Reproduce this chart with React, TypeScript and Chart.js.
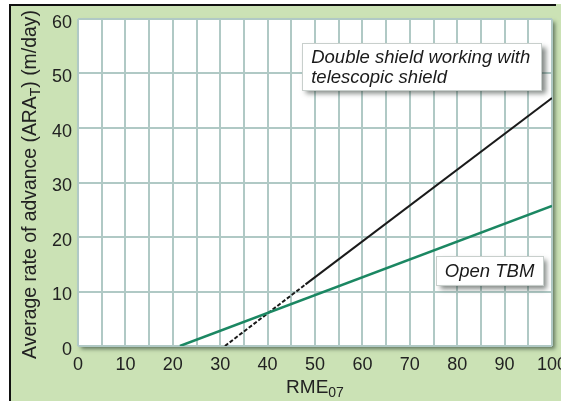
import React, { useEffect, useRef } from 'react';
import { Chart, registerables } from 'chart.js';

Chart.register(...registerables);

// ---- data ----
const xTickLabels = [0, 10, 20, 30, 40, 50, 60, 70, 80, 90, 100];
const yTickLabels = [0, 10, 20, 30, 40, 50, 60];

const doubleShieldDashedX = [31, 48];
const doubleShieldDashedY = [0, 11.3];
const doubleShieldSolidX = [48, 100];
const doubleShieldSolidY = [11.3, 45.5];
const openTbmX = [21.5, 100];
const openTbmY = [0, 25.7];

const doubleShieldLabel = ['Double shield working with', 'telescopic shield'];
const openTbmLabel = ['Open TBM'];

const xTitle = [{ t: 'RME' }, { t: '07', sub: true }];
const yTitle = [
  { t: 'Average rate of advance (ARA' },
  { t: 'T', sub: true },
  { t: ') (m/day)' },
];

// ---- annotation boxes (data coordinates) ----
const annotations = [
  { lines: doubleShieldLabel, x0: 47.3, x1: 97.8, y0: 55.6, y1: 46.9 },
  { lines: openTbmLabel, x0: 75.5, x1: 98.1, y0: 16.5, y1: 11.2 },
];

const FAMILY = '"Liberation Sans", Arial, Helvetica, sans-serif';
const GREEN_BG = '#cbe2b5';
const GRID = '#b0c9c5';

function toPoints(xs: number[], ys: number[]) {
  return xs.map((x, i) => ({ x, y: ys[i] }));
}

function drawRich(ctx: CanvasRenderingContext2D, parts: { t: string; sub?: boolean }[], size: number, cx: number, y: number) {
  const big = `${size}px ${FAMILY}`;
  const small = `${Math.round(size * 0.72)}px ${FAMILY}`;
  let total = 0;
  const widths = parts.map((p) => {
    ctx.font = p.sub ? small : big;
    const w = ctx.measureText(p.t).width;
    total += w;
    return w;
  });
  let x = cx - total / 2;
  ctx.textAlign = 'left';
  ctx.textBaseline = 'alphabetic';
  parts.forEach((p, i) => {
    ctx.font = p.sub ? small : big;
    ctx.fillText(p.t, x, p.sub ? y + size * 0.22 : y);
    x += widths[i];
  });
}

const decorPlugin = {
  id: 'decor',
  beforeDraw(chart: any) {
    const { ctx, width, height, chartArea: a } = chart;
    ctx.save();
    ctx.fillStyle = '#ffffff';
    ctx.fillRect(0, 0, width, height);
    ctx.fillStyle = GREEN_BG;
    ctx.fillRect(10, 4, width - 10, height - 4);
    ctx.strokeStyle = '#111';
    ctx.lineWidth = 2;
    ctx.beginPath();
    ctx.moveTo(556, 5);
    ctx.lineTo(10, 5);
    ctx.lineTo(10, height);
    ctx.stroke();
    // plot area with drop shadow
    ctx.shadowColor = 'rgba(40,60,45,0.65)';
    ctx.shadowOffsetX = 3;
    ctx.shadowOffsetY = 3;
    ctx.shadowBlur = 4;
    ctx.fillStyle = '#ffffff';
    ctx.fillRect(a.left, a.top, a.right - a.left, a.bottom - a.top);
    ctx.restore();
  },
  afterDatasetsDraw(chart: any) {
    const { ctx, scales } = chart;
    const xs = scales.x;
    const ys = scales.y;
    annotations.forEach((an) => {
      const l = xs.getPixelForValue(an.x0);
      const r = xs.getPixelForValue(an.x1);
      const t = ys.getPixelForValue(an.y0);
      const b = ys.getPixelForValue(an.y1);
      ctx.save();
      ctx.shadowColor = 'rgba(30,40,35,0.55)';
      ctx.shadowOffsetX = 4;
      ctx.shadowOffsetY = 4;
      ctx.shadowBlur = 5;
      ctx.fillStyle = '#ffffff';
      ctx.fillRect(l, t, r - l, b - t);
      ctx.restore();
      ctx.save();
      ctx.strokeStyle = '#c8cfcc';
      ctx.lineWidth = 1;
      ctx.strokeRect(Math.round(l) + 0.5, Math.round(t) + 0.5, Math.round(r - l), Math.round(b - t));
      ctx.fillStyle = '#1a1a1a';
      ctx.font = `italic 18.5px ${FAMILY}`;
      ctx.textAlign = 'left';
      ctx.textBaseline = 'alphabetic';
      const n = an.lines.length;
      const lh = 20;
      const mid = (t + b) / 2;
      an.lines.forEach((line, i) => {
        const base = mid + (i - (n - 1) / 2) * lh + 6.5;
        ctx.fillText(line, l + 9, base);
      });
      ctx.restore();
    });
  },
  afterDraw(chart: any) {
    const { ctx, chartArea: a } = chart;
    ctx.save();
    ctx.fillStyle = '#222';
    drawRich(ctx, xTitle, 19, (a.left + a.right) / 2, 393);
    ctx.translate(36, (a.top + a.bottom) / 2 + 2);
    ctx.rotate(-Math.PI / 2);
    drawRich(ctx, yTitle, 19.4, 0, 0);
    ctx.restore();
  },
};

export default function App() {
  const ref = useRef<HTMLCanvasElement | null>(null);

  useEffect(() => {
    if (!ref.current) return;
    Chart.defaults.font.family = FAMILY;
    const chart = new Chart(ref.current, {
      type: 'scatter',
      data: {
        datasets: [
          {
            label: 'Open TBM',
            data: toPoints(openTbmX, openTbmY),
            showLine: true,
            borderColor: '#1b8762',
            borderWidth: 2.5,
            pointRadius: 0,
          },
          {
            label: 'Double shield (extrapolated)',
            data: toPoints(doubleShieldDashedX, doubleShieldDashedY),
            showLine: true,
            borderColor: '#1a1a1a',
            borderWidth: 2,
            borderDash: [4, 2],
            pointRadius: 0,
          },
          {
            label: 'Double shield working with telescopic shield',
            data: toPoints(doubleShieldSolidX, doubleShieldSolidY),
            showLine: true,
            borderColor: '#1a1a1a',
            borderWidth: 2,
            pointRadius: 0,
          },
        ],
      },
      options: {
        animation: false,
        responsive: false,
        devicePixelRatio: 1,
        layout: { padding: { top: 19, right: 9, left: 0, bottom: 0 } },
        plugins: { legend: { display: false }, tooltip: { enabled: false } },
        scales: {
          x: {
            type: 'linear',
            min: 0,
            max: 100,
            ticks: {
              stepSize: 5,
              autoSkip: false,
              maxRotation: 0,
              padding: 8,
              color: '#222',
              font: { size: 18, family: FAMILY },
              callback: (v: any) => (xTickLabels.includes(Number(v)) ? String(v) : ''),
            },
            grid: { color: GRID, lineWidth: 2, drawTicks: false },
            border: { display: false },
            afterFit: (s: any) => {
              s.height = 55;
              s.paddingLeft = 0;
              s.paddingRight = 0;
            },
          },
          y: {
            type: 'linear',
            min: 0,
            max: 60,
            ticks: {
              stepSize: 10,
              padding: 6,
              labelOffset: 4,
              color: '#222',
              font: { size: 18, family: FAMILY },
              callback: (v: any) => (yTickLabels.includes(Number(v)) ? String(v) : ''),
            },
            grid: { color: GRID, lineWidth: 2, drawTicks: false },
            border: { display: false },
            afterFit: (s: any) => {
              s.width = 78;
              s.paddingTop = 0;
              s.paddingBottom = 0;
            },
          },
        },
      },
      plugins: [decorPlugin],
    } as any);
    return () => chart.destroy();
  }, []);

  return (
    <div style={{ position: 'absolute', left: 0, top: 0, width: 561, height: 401 }}>
      <canvas ref={ref} width={561} height={401} style={{ display: 'block', width: 561, height: 401 }} />
    </div>
  );
}
